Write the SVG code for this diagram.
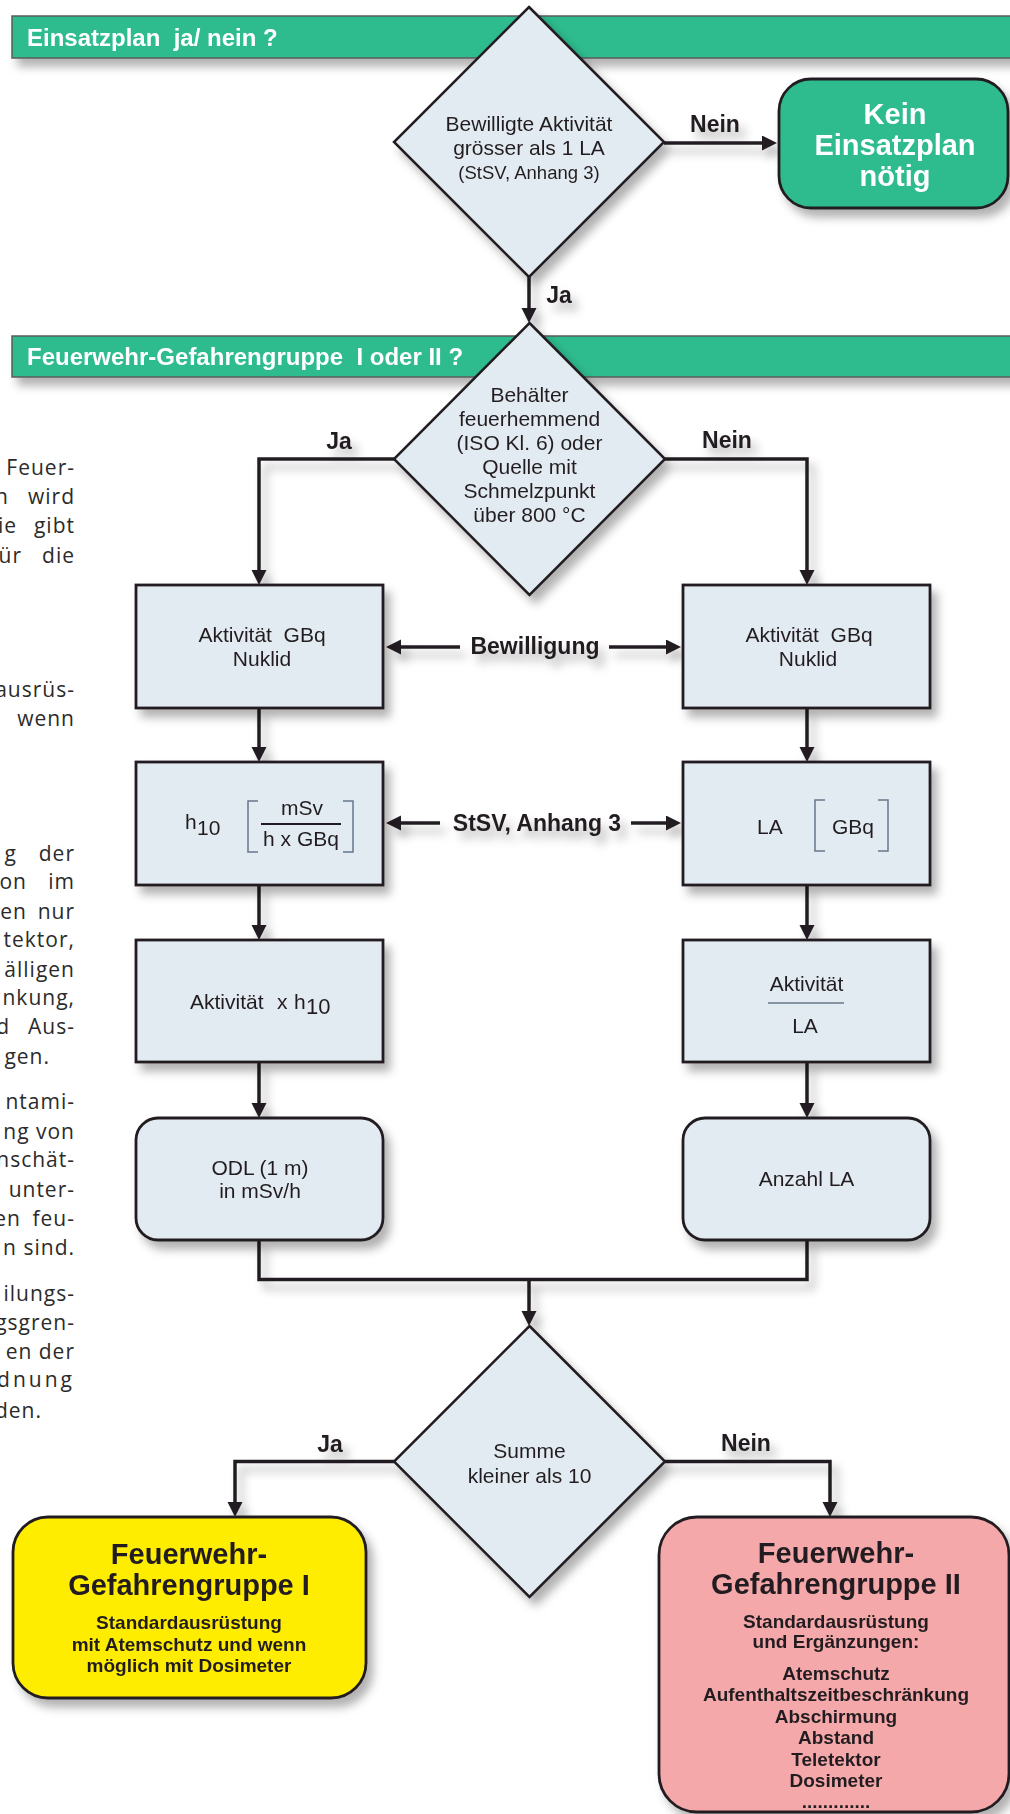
<svg xmlns="http://www.w3.org/2000/svg" width="1010" height="1814" viewBox="0 0 1010 1814">
  <style>
    .banner { fill: #2ebb8e; stroke: #5b5b5b; stroke-width: 1.5; }
    .bannerText { font-family: "Liberation Sans", Arial, sans-serif; font-weight: bold; font-size: 24px; fill: #ffffff; }
    .box { fill: #e3ebf2; stroke: #231f20; stroke-width: 2.8; }
    .dia { fill: #e3ebf2; stroke: #231f20; stroke-width: 2.5; }
    .t { font-family: "Liberation Sans", Arial, sans-serif; font-size: 21px; fill: #231f20; text-anchor: middle; }
    .ts { font-family: "Liberation Sans", Arial, sans-serif; font-size: 18.5px; fill: #231f20; text-anchor: middle; }
    .lbl { font-family: "Liberation Sans", Arial, sans-serif; font-weight: bold; font-size: 23px; fill: #231f20; text-anchor: middle; }
    .big { font-family: "Liberation Sans", Arial, sans-serif; font-weight: bold; font-size: 29px; fill: #231f20; text-anchor: middle; }
    .sub { font-family: "Liberation Sans", Arial, sans-serif; font-weight: bold; font-size: 19px; fill: #231f20; text-anchor: middle; }
    .wbig { font-family: "Liberation Sans", Arial, sans-serif; font-weight: bold; font-size: 29px; fill: #ffffff; text-anchor: middle; }
    .conn { fill: none; stroke: #231f20; stroke-width: 3.5; }
    .arr { marker-end: url(#head); }
    .brk { fill: none; stroke: #66788a; stroke-width: 1.5; }
    .frac { stroke: #231f20; stroke-width: 2; }
    .fracg { stroke: #66788a; stroke-width: 1.5; }
    .para { font-family: "Open Sans", "Noto Sans", sans-serif; font-size: 21px; fill: #2b2b2b; text-anchor: end; letter-spacing: 1px; }
  </style>
  <defs>
    <marker id="head" markerUnits="userSpaceOnUse" markerWidth="16" markerHeight="16" refX="5" refY="7.5" orient="auto">
      <path d="M0,0 L15,7.5 L0,15 Z" fill="#231f20"/>
    </marker>
    <filter id="sh" filterUnits="userSpaceOnUse" x="0" y="0" width="1010" height="1814">
      <feDropShadow dx="6" dy="8" stdDeviation="5" flood-color="#000000" flood-opacity="0.3"/>
    </filter>
  </defs>

  <rect width="1010" height="1814" fill="#ffffff"/>

  <!-- running body text along the left margin -->
  <g id="margin-text" class="para">
    <text x="75" y="475">Feuer-</text>
    <text x="9" y="504">n</text><text x="75" y="504">wird</text>
    <text x="17" y="533">ie</text><text x="75" y="533">gibt</text>
    <text x="22" y="563">ür</text><text x="75" y="563">die</text>
    <text x="75" y="697">ausrüs-</text>
    <text x="75" y="726">wenn</text>
    <text x="17" y="861">g</text><text x="75" y="861">der</text>
    <text x="27" y="889">on</text><text x="75" y="889">im</text>
    <text x="27" y="919">en</text><text x="75" y="919">nur</text>
    <text x="75" y="947">tektor,</text>
    <text x="75" y="977">älligen</text>
    <text x="75" y="1005">nkung,</text>
    <text x="10" y="1034">d</text><text x="75" y="1034">Aus-</text>
    <text x="50" y="1064">gen.</text>
    <text x="75" y="1109">ntami-</text>
    <text x="75" y="1139">ng von</text>
    <text x="75" y="1167">nschät-</text>
    <text x="75" y="1197">unter-</text>
    <text x="21" y="1226">en</text><text x="75" y="1226">feu-</text>
    <text x="75" y="1255">n sind.</text>
    <text x="75" y="1301">ilungs-</text>
    <text x="75" y="1330">gsgren-</text>
    <text x="75" y="1359">en der</text>
    <text x="75" y="1387" style="letter-spacing:3px">dnung</text>
    <text x="42" y="1418">den.</text>
  </g>

  <!-- section headers -->
  <g id="banner-einsatzplan" filter="url(#sh)">
    <rect class="banner" x="12" y="16" width="1010" height="42"/>
    <text class="bannerText" x="27" y="46" xml:space="preserve">Einsatzplan  ja/ nein ?</text>
  </g>
  <g id="banner-gefahrengruppe" filter="url(#sh)">
    <rect class="banner" x="12" y="336" width="1010" height="41"/>
    <text class="bannerText" x="27" y="365" xml:space="preserve">Feuerwehr-Gefahrengruppe  I oder II ?</text>
  </g>

  <!-- connectors -->
  <g id="connectors" filter="url(#sh)">
    <path class="conn arr" d="M664,143 H767"/>
    <path class="conn arr" d="M529,277 V313"/>
    <path class="conn arr" d="M394,459 H259 V575"/>
    <path class="conn arr" d="M665,459 H807 V575"/>
    <path class="conn arr" d="M259,708 V752"/>
    <path class="conn arr" d="M807,708 V752"/>
    <path class="conn arr" d="M259,885 V930"/>
    <path class="conn arr" d="M807,885 V930"/>
    <path class="conn arr" d="M259,1062 V1108"/>
    <path class="conn arr" d="M807,1062 V1108"/>
    <path class="conn" d="M259,1240 V1279.5 H807 V1240"/>
    <path class="conn arr" d="M529,1279.5 V1316"/>
    <path class="conn arr" d="M394,1461.5 H235 V1507"/>
    <path class="conn arr" d="M665,1461.5 H830 V1507"/>
    <path class="conn arr" d="M460,647 H396"/>
    <path class="conn arr" d="M609,647 H671"/>
    <path class="conn arr" d="M440,823 H396"/>
    <path class="conn arr" d="M631,823 H671"/>
    <text class="lbl" x="715" y="132">Nein</text>
    <text class="lbl" x="559" y="303">Ja</text>
    <text class="lbl" x="339" y="449">Ja</text>
    <text class="lbl" x="727" y="448">Nein</text>
    <text class="lbl" x="535" y="654">Bewilligung</text>
    <text class="lbl" x="537" y="831">StSV, Anhang 3</text>
    <text class="lbl" x="330" y="1452">Ja</text>
    <text class="lbl" x="746" y="1451">Nein</text>
  </g>

  <!-- decision: permitted activity -->
  <g id="decision-activity" filter="url(#sh)">
    <polygon class="dia" points="529,7 664,142 529,277 394,142"/>
    <text class="t" x="529" y="131">Bewilligte Aktivität</text>
    <text class="t" x="529" y="155">grösser als 1 LA</text>
    <text class="ts" x="529" y="179">(StSV, Anhang 3)</text>
  </g>

  <!-- terminal: no plan needed -->
  <g id="no-plan" filter="url(#sh)">
    <rect x="779" y="79" width="229" height="129" rx="32" fill="#2ebb8e" stroke="#231f20" stroke-width="2.8"/>
    <text class="wbig" x="895" y="124">Kein</text>
    <text class="wbig" x="895" y="155">Einsatzplan</text>
    <text class="wbig" x="895" y="186">nötig</text>
  </g>

  <!-- decision: container / melting point -->
  <g id="decision-container" filter="url(#sh)">
    <polygon class="dia" points="529.5,323 665,459 529.5,595 394,459"/>
    <text class="t" x="529.5" y="402">Behälter</text>
    <text class="t" x="529.5" y="426">feuerhemmend</text>
    <text class="t" x="529.5" y="450">(ISO Kl. 6) oder</text>
    <text class="t" x="529.5" y="474">Quelle mit</text>
    <text class="t" x="529.5" y="498">Schmelzpunkt</text>
    <text class="t" x="529.5" y="522">über 800 °C</text>
  </g>

  <!-- left column -->
  <g id="left-activity" filter="url(#sh)">
    <rect class="box" x="136" y="585" width="247" height="123"/>
    <text class="t" x="262" y="642" xml:space="preserve">Aktivität  GBq</text>
    <text class="t" x="262" y="666">Nuklid</text>
  </g>
  <g id="left-h10" filter="url(#sh)">
    <rect class="box" x="136" y="762" width="247" height="123"/>
    <text class="t" x="185" y="829" style="text-anchor:start">h</text>
    <text class="t" x="197" y="835" style="text-anchor:start">10</text>
    <path class="brk" d="M258,801 H248 V852 H258"/>
    <path class="brk" d="M343,801 H353 V852 H343"/>
    <text class="t" x="302" y="815">mSv</text>
    <line class="frac" x1="261" y1="824" x2="341" y2="824"/>
    <text class="t" x="301" y="846">h x GBq</text>
  </g>
  <g id="left-product" filter="url(#sh)">
    <rect class="box" x="136" y="940" width="247" height="122"/>
    <text class="t" x="190" y="1009" style="text-anchor:start">Aktivität</text>
    <text class="t" x="277" y="1009" style="text-anchor:start">x</text>
    <text class="t" x="294" y="1009" style="text-anchor:start">h</text>
    <text class="t" x="306" y="1014" style="text-anchor:start;font-size:22px">10</text>
  </g>
  <g id="left-odl" filter="url(#sh)">
    <rect class="box" x="136" y="1118" width="247" height="122" rx="22"/>
    <text class="t" x="260" y="1175">ODL (1 m)</text>
    <text class="t" x="260" y="1198">in mSv/h</text>
  </g>

  <!-- right column -->
  <g id="right-activity" filter="url(#sh)">
    <rect class="box" x="683" y="585" width="247" height="123"/>
    <text class="t" x="809" y="642" xml:space="preserve">Aktivität  GBq</text>
    <text class="t" x="808" y="666">Nuklid</text>
  </g>
  <g id="right-la" filter="url(#sh)">
    <rect class="box" x="683" y="762" width="247" height="123"/>
    <text class="t" x="757" y="834" style="text-anchor:start">LA</text>
    <path class="brk" d="M825,800 H815 V851 H825"/>
    <path class="brk" d="M878,800 H888 V851 H878"/>
    <text class="t" x="832" y="834" style="text-anchor:start">GBq</text>
  </g>
  <g id="right-ratio" filter="url(#sh)">
    <rect class="box" x="683" y="940" width="247" height="122"/>
    <text class="t" x="806.5" y="991">Aktivität</text>
    <line class="fracg" x1="768" y1="1003" x2="844" y2="1003"/>
    <text class="t" x="805" y="1033">LA</text>
  </g>
  <g id="right-count" filter="url(#sh)">
    <rect class="box" x="683" y="1118" width="247" height="122" rx="22"/>
    <text class="t" x="806.5" y="1186">Anzahl LA</text>
  </g>

  <!-- decision: sum -->
  <g id="decision-sum" filter="url(#sh)">
    <polygon class="dia" points="529.5,1326 665,1461.5 529.5,1597 394,1461.5"/>
    <text class="t" x="529.5" y="1458">Summe</text>
    <text class="t" x="529.5" y="1483">kleiner als 10</text>
  </g>

  <!-- outcome: group I -->
  <g id="group-one" filter="url(#sh)">
    <rect x="13" y="1517" width="353" height="181" rx="35" fill="#ffed00" stroke="#231f20" stroke-width="2.8"/>
    <text class="big" x="189" y="1564">Feuerwehr-</text>
    <text class="big" x="189" y="1595">Gefahrengruppe I</text>
    <text class="sub" x="189" y="1629">Standardausrüstung</text>
    <text class="sub" x="189" y="1651">mit Atemschutz und wenn</text>
    <text class="sub" x="189" y="1672">möglich mit Dosimeter</text>
  </g>

  <!-- outcome: group II -->
  <g id="group-two" filter="url(#sh)">
    <rect x="659" y="1517" width="350" height="295" rx="38" fill="#f5a8aa" stroke="#231f20" stroke-width="2.8"/>
    <text class="big" x="836" y="1563">Feuerwehr-</text>
    <text class="big" x="836" y="1594">Gefahrengruppe II</text>
    <text class="sub" x="836" y="1628">Standardausrüstung</text>
    <text class="sub" x="836" y="1648">und Ergänzungen:</text>
    <text class="sub" x="836" y="1680">Atemschutz</text>
    <text class="sub" x="836" y="1701">Aufenthaltszeitbeschränkung</text>
    <text class="sub" x="836" y="1723">Abschirmung</text>
    <text class="sub" x="836" y="1744">Abstand</text>
    <text class="sub" x="836" y="1766">Teletektor</text>
    <text class="sub" x="836" y="1787">Dosimeter</text>
    <text class="sub" x="836" y="1808">.............</text>
  </g>
</svg>
